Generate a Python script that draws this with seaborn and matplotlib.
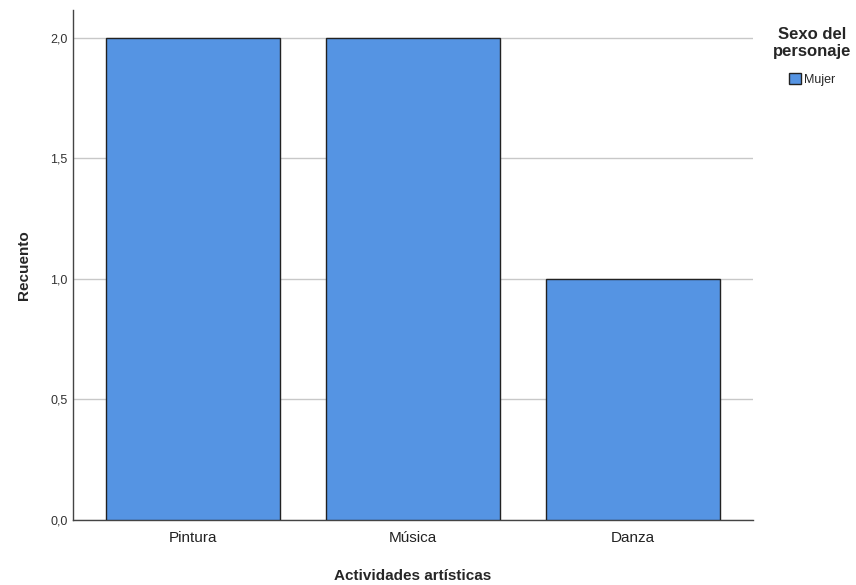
import pandas as pd
import matplotlib.pyplot as plt
import seaborn as sns

# Datos del gráfico
actividades = ['Pintura', 'Música', 'Danza']
recuento = [2, 2, 1]
sexo = ['Mujer', 'Mujer', 'Mujer']

df = pd.DataFrame({'Actividades artísticas': actividades,
                   'Recuento': recuento,
                   'Sexo del personaje': sexo})

sns.set_style('white')
plt.rcParams['font.family'] = ['Liberation Sans', 'DejaVu Sans']

fig = plt.figure(figsize=(8.56, 5.85), dpi=100)
ax = fig.add_axes([0.0853, 0.1111, 0.7944, 0.872])

sns.barplot(data=df, x='Actividades artísticas', y='Recuento', hue='Sexo del personaje',
            palette=['#5594E3'], width=0.79, edgecolor='#222222', linewidth=1.0,
            saturation=1, ax=ax, zorder=3, legend=True)

ax.set_xlim(-0.545, 2.545)
ax.set_ylim(0, 2.116)
ax.set_yticks([0, 0.5, 1.0, 1.5, 2.0])
ax.set_yticklabels(['0,0', '0,5', '1,0', '1,5', '2,0'], fontsize=9, color='#333333')
ax.tick_params(axis='x', labelsize=11, colors='#222222', length=0, pad=8)
ax.tick_params(axis='y', length=0, pad=4)
ax.yaxis.grid(True, color='#c8c8c8', linewidth=1.0, zorder=0)
ax.xaxis.grid(False)

for s in ['top', 'right']:
    ax.spines[s].set_visible(False)
for s in ['left', 'bottom']:
    ax.spines[s].set_color('#444444')
    ax.spines[s].set_linewidth(1.0)

ax.set_xlabel('Actividades artísticas', fontsize=11, fontweight='bold', labelpad=17)
ax.set_ylabel('Recuento', fontsize=11, fontweight='bold', labelpad=14)

handles, labels = ax.get_legend_handles_labels()
ax.get_legend().remove()
leg = fig.legend(handles, labels, title='Sexo del\npersonaje', loc='upper center',
                 bbox_to_anchor=(812 / 856, 1 - 18 / 585), frameon=False, fontsize=9,
                 title_fontsize=12, handlelength=1.0, handleheight=1.0,
                 handletextpad=0.2, borderpad=0.2)
leg.get_title().set_fontweight('bold')
leg.get_title().set_multialignment('center')
leg._legend_box.sep = 10

fig.savefig('out.png', dpi=100)
